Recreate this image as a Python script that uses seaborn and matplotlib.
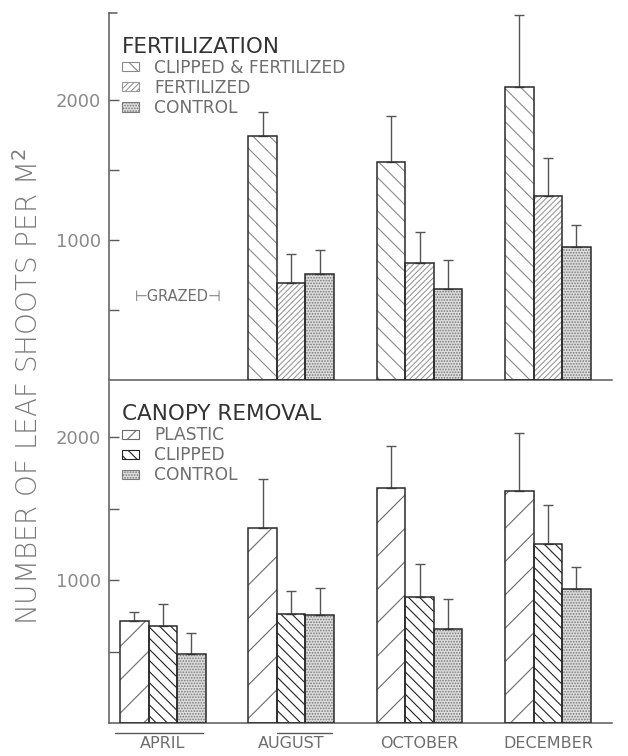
import numpy as np
import pandas as pd
import matplotlib
matplotlib.use("Agg")
import matplotlib.pyplot as plt
import matplotlib.patches as mpatches
import matplotlib.transforms as mtransforms
import seaborn as sns

sns.set_theme(style="white")
plt.rcParams['font.family'] = ['DejaVu Sans']
plt.rcParams['hatch.linewidth'] = 0.8

# ---------------- data ----------------
months = ["APRIL", "AUGUST", "OCTOBER", "DECEMBER"]

fert_groups = ["CLIPPED & FERTILIZED", "FERTILIZED", "CONTROL"]
fert_clip_fert = [np.nan, 1745, 1555, 2095]
fert_clip_fert_err = [np.nan, 165, 330, 510]
fert_fert = [np.nan, 695, 835, 1315]
fert_fert_err = [np.nan, 205, 220, 270]
fert_control = [np.nan, 755, 650, 950]
fert_control_err = [np.nan, 170, 205, 155]

canopy_groups = ["PLASTIC", "CLIPPED", "CONTROL"]
canopy_plastic = [715, 1365, 1645, 1625]
canopy_plastic_err = [60, 340, 295, 405]
canopy_clipped = [675, 765, 880, 1255]
canopy_clipped_err = [160, 160, 235, 270]
canopy_control = [480, 755, 655, 935]
canopy_control_err = [150, 190, 210, 155]

# hatch / colour styles per treatment
fert_styles = {
    "CLIPPED & FERTILIZED": dict(hatch="\\\\", face="white", hc="#8a8a8a"),
    "FERTILIZED": dict(hatch="//////", face="white", hc="#9a9a9a"),
    "CONTROL": dict(hatch="......", face="#dcdcdc", hc="#7a7a7a"),
}
canopy_styles = {
    "PLASTIC": dict(hatch="/", face="white", hc="#6a6a6a"),
    "CLIPPED": dict(hatch="\\\\\\", face="white", hc="#222222"),
    "CONTROL": dict(hatch="......", face="#dcdcdc", hc="#7a7a7a"),
}


def long_df(groups, values, errs):
    rows = []
    for g, vals, es in zip(groups, values, errs):
        for m, v, e in zip(months, vals, es):
            rows.append({"month": m, "treatment": g, "shoots": v, "err": e})
    return pd.DataFrame(rows)


df_fert = long_df(fert_groups, [fert_clip_fert, fert_fert, fert_control],
                  [fert_clip_fert_err, fert_fert_err, fert_control_err])
df_canopy = long_df(canopy_groups, [canopy_plastic, canopy_clipped, canopy_control],
                    [canopy_plastic_err, canopy_clipped_err, canopy_control_err])

TXT = "#6e6e6e"
AX = "#5a5a5a"

fig = plt.figure(figsize=(6.28, 7.56), dpi=100)
W, H = 628.0, 756.0
ax1 = fig.add_axes([109 / W, 1 - 380 / H, (612 - 109) / W, 367 / H])
ax2 = fig.add_axes([109 / W, 1 - 723 / H, (612 - 109) / W, 341 / H])


def draw_panel(ax, df, groups, styles, ylim_top, title):
    sns.barplot(data=df, x="month", y="shoots", hue="treatment", order=months,
                hue_order=groups, width=0.667, errorbar=None, legend=False, ax=ax)
    for cont, g in zip(ax.containers, groups):
        st = styles[g]
        errs = df[df.treatment == g].set_index("month")["err"]
        xs, ys, es = [], [], []
        for p in cont.patches:
            if np.isnan(p.get_height()):
                continue
            p.set_facecolor(st["face"])
            p.set_edgecolor(st["hc"])
            p.set_hatch(st["hatch"])
            p.set_linewidth(0)
            ax.add_patch(mpatches.Rectangle((p.get_x(), p.get_y()), p.get_width(),
                                            p.get_height(), fill=False,
                                            edgecolor="#2a2a2a", linewidth=1.1, zorder=3))
            xc = p.get_x() + p.get_width() / 2
            xs.append(xc)
            ys.append(p.get_height())
            es.append(errs[months[int(round(xc))]])
        ax.errorbar(xs, ys, yerr=[np.zeros(len(es)), es], fmt="none",
                    ecolor="#555555", elinewidth=1.0, capsize=3.5, capthick=1.0, zorder=2)

    ax.set_xlim(-0.42, 3.5)
    ax.set_ylim(0, ylim_top)
    ax.set_xlabel("")
    ax.set_ylabel("")
    sns.despine(ax=ax)
    for s in ["left", "bottom"]:
        ax.spines[s].set_color(AX)
        ax.spines[s].set_linewidth(1.1)
    ax.set_yticks([1000, 2000])
    ax.set_yticklabels(["1000", "2000"])
    ax.set_yticks([500, 1500], minor=True)
    ax.tick_params(axis="y", which="both", direction="in", length=7, width=1,
                   color=AX, labelsize=13, labelcolor="#8a8a8a", pad=6, left=True)
    ax.tick_params(axis="x", length=0, labelsize=11.5, labelcolor=TXT, pad=9)

    handles = [mpatches.Patch(facecolor=styles[g]["face"], edgecolor=styles[g]["hc"],
                              hatch=styles[g]["hatch"], linewidth=0.8) for g in groups]
    leg = ax.legend(handles, groups, title=title, loc="upper left",
                    bbox_to_anchor=(0.025, 0.935), borderaxespad=0, borderpad=0,
                    frameon=False, fontsize=12.3, title_fontsize=15.5, alignment="left",
                    handlelength=1.0, handleheight=0.45, handletextpad=0.9,
                    labelspacing=0.12)
    leg.get_title().set_color("#333333")
    for t in leg.get_texts():
        t.set_color(TXT)


draw_panel(ax1, df_fert, fert_groups, fert_styles, 2620, "FERTILIZATION")
draw_panel(ax2, df_canopy, canopy_groups, canopy_styles, 2385, "CANOPY REMOVAL")

ax1.set_xticklabels([])
ax1.plot([0, 0.016], [1, 1], transform=ax1.transAxes, color=AX, lw=1.1, clip_on=False)
ax1.text(0.12, 593, "\u22a2GRAZED\u22a3", ha="center", va="center", fontsize=10.5, color=TXT)

# small underline marks below the baselines
tr1 = mtransforms.blended_transform_factory(ax1.transData, ax1.transAxes)
tr2 = mtransforms.blended_transform_factory(ax2.transData, ax2.transAxes)
ax1.plot([0.91, 1.34], [-0.022, -0.022], transform=tr1, color=AX, lw=1, clip_on=False)
ax2.plot([-0.37, 0.31], [-0.028, -0.028], transform=tr2, color=AX, lw=1, clip_on=False)
ax2.plot([0.89, 1.32], [-0.028, -0.028], transform=tr2, color=AX, lw=1, clip_on=False)

fig.text(29 / W, 1 - 387 / H, "NUMBER OF LEAF SHOOTS PER M$^{2}$", rotation=90,
         ha="center", va="center", fontsize=20, color="#7a7a7a", fontweight="light")

fig.savefig("out.png", dpi=100)
